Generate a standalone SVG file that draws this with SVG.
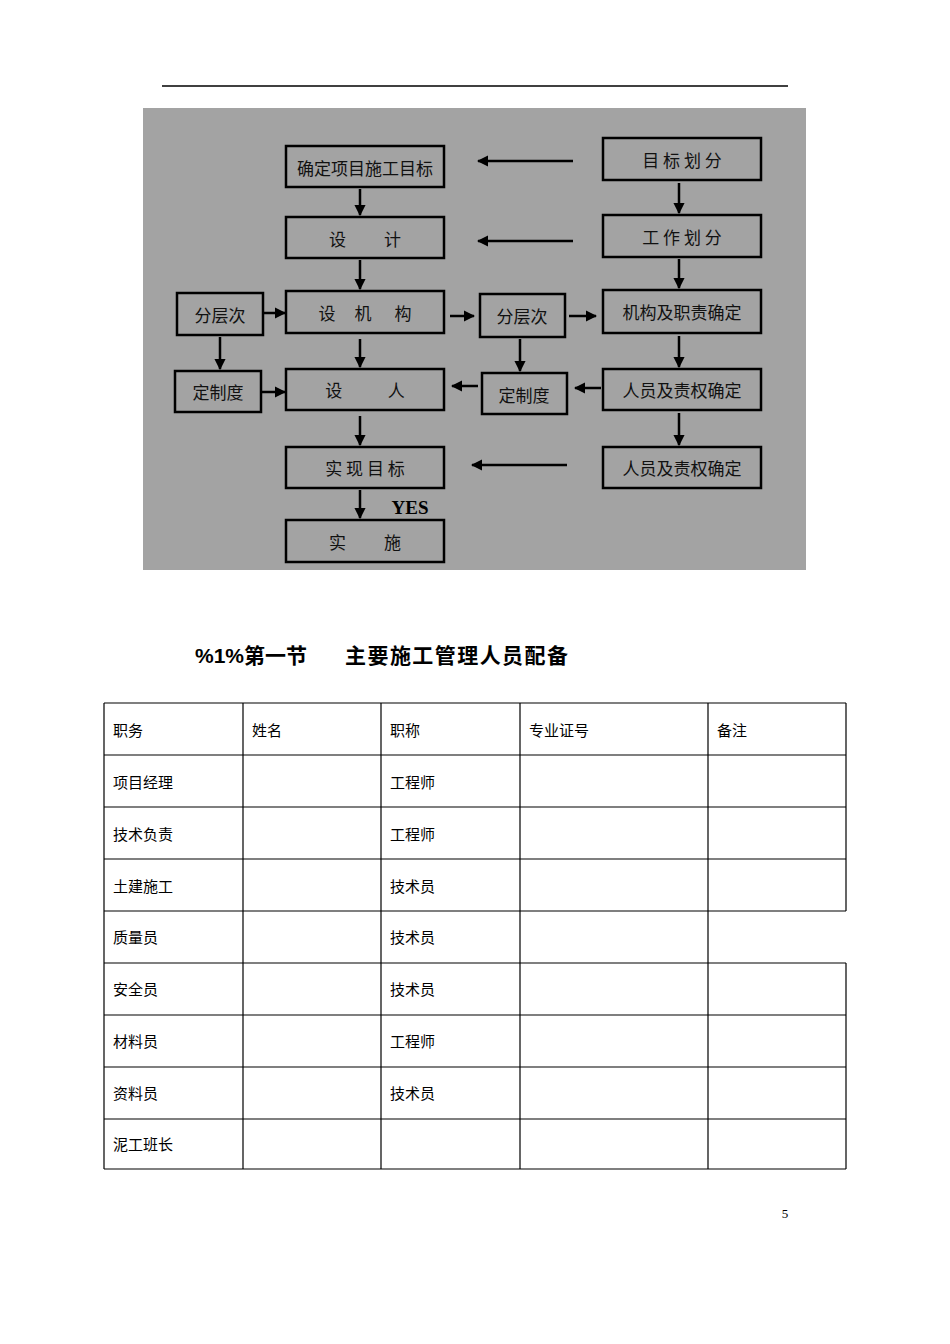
<svg xmlns="http://www.w3.org/2000/svg" width="950" height="1344" viewBox="0 0 950 1344">
<style>
.b{fill:none;stroke:#000;stroke-width:2.5}
.t{font-family:"Noto Sans CJK SC",sans-serif;font-size:17px;fill:#111;text-anchor:middle;dominant-baseline:central}
.c{stroke:#000;stroke-width:2.5;fill:none}
.g{stroke:#000;stroke-width:1.2;fill:none}
.tt{font-family:"Liberation Serif","Noto Sans CJK SC",serif;font-size:15px;fill:#000}
.h{font-family:"Liberation Sans","Noto Sans CJK SC",sans-serif;font-size:21px;font-weight:bold}
</style>
<defs><marker id="a" viewBox="0 0 10 10" refX="9" refY="5" markerWidth="4.5" markerHeight="4.5" orient="auto"><path d="M0,0L10,5L0,10z" fill="#000"/></marker></defs>
<rect width="950" height="1344" fill="#fff"/>
<line x1="162" y1="86" x2="788" y2="86" stroke="#000" stroke-width="1.5"/>
<rect x="143" y="108" width="663" height="462" fill="#a3a3a3"/>
<g id="n1"><rect class="b" x="286" y="146" width="158" height="41"/><text class="t" x="365" y="167">确定项目施工目标</text></g>
<g id="n2"><rect class="b" x="603" y="138" width="158" height="42"/><text class="t" x="682" y="159">目 标 划 分</text></g>
<g id="n3"><rect class="b" x="286" y="217" width="158" height="41"/><text class="t" x="365" y="238" xml:space="preserve">设          计</text></g>
<g id="n4"><rect class="b" x="603" y="215" width="158" height="42"/><text class="t" x="682" y="236">工  作  划  分</text></g>
<g id="n5"><rect class="b" x="177" y="293" width="86" height="42"/><text class="t" x="220" y="314">分层次</text></g>
<g id="n6"><rect class="b" x="286" y="291" width="158" height="42"/><text class="t" x="365" y="312" xml:space="preserve">设     机      构</text></g>
<g id="n7"><rect class="b" x="480" y="294" width="85" height="43"/><text class="t" x="522" y="315">分层次</text></g>
<g id="n8"><rect class="b" x="603" y="290" width="158" height="43"/><text class="t" x="682" y="311">机构及职责确定</text></g>
<g id="n9"><rect class="b" x="175" y="371" width="86" height="41"/><text class="t" x="218" y="391">定制度</text></g>
<g id="n10"><rect class="b" x="286" y="369" width="158" height="41"/><text class="t" x="365" y="389" xml:space="preserve">设            人</text></g>
<g id="n11"><rect class="b" x="482" y="373" width="85" height="41"/><text class="t" x="524" y="394">定制度</text></g>
<g id="n12"><rect class="b" x="603" y="369" width="158" height="41"/><text class="t" x="682" y="389">人员及责权确定</text></g>
<g id="n13"><rect class="b" x="286" y="447" width="158" height="41"/><text class="t" x="365" y="467">实  现  目  标</text></g>
<g id="n14"><rect class="b" x="603" y="447" width="158" height="41"/><text class="t" x="682" y="467">人员及责权确定</text></g>
<g id="n15"><rect class="b" x="286" y="520" width="158" height="42"/><text class="t" x="365" y="541" xml:space="preserve">实          施</text></g>
<text x="410" y="514" font-family="Liberation Serif,serif" font-size="19" font-weight="bold" text-anchor="middle">YES</text>
<g id="connectors">
<line class="c" x1="573" y1="161" x2="478" y2="161" marker-end="url(#a)"/>
<line class="c" x1="573" y1="241" x2="478" y2="241" marker-end="url(#a)"/>
<line class="c" x1="567" y1="465" x2="472" y2="465" marker-end="url(#a)"/>
<line class="c" x1="360" y1="189" x2="360" y2="215" marker-end="url(#a)"/>
<line class="c" x1="360" y1="260" x2="360" y2="289" marker-end="url(#a)"/>
<line class="c" x1="360" y1="339" x2="360" y2="367" marker-end="url(#a)"/>
<line class="c" x1="360" y1="416" x2="360" y2="445" marker-end="url(#a)"/>
<line class="c" x1="360" y1="490" x2="360" y2="518" marker-end="url(#a)"/>
<line class="c" x1="679" y1="183" x2="679" y2="213" marker-end="url(#a)"/>
<line class="c" x1="679" y1="259" x2="679" y2="288" marker-end="url(#a)"/>
<line class="c" x1="679" y1="336" x2="679" y2="367" marker-end="url(#a)"/>
<line class="c" x1="679" y1="413" x2="679" y2="445" marker-end="url(#a)"/>
<line class="c" x1="220" y1="337" x2="220" y2="369" marker-end="url(#a)"/>
<line class="c" x1="520" y1="339" x2="520" y2="371" marker-end="url(#a)"/>
<line class="c" x1="263" y1="313" x2="285" y2="313" marker-end="url(#a)"/>
<line class="c" x1="450" y1="316" x2="474" y2="316" marker-end="url(#a)"/>
<line class="c" x1="569" y1="316" x2="596" y2="316" marker-end="url(#a)"/>
<line class="c" x1="261" y1="392" x2="285" y2="392" marker-end="url(#a)"/>
<line class="c" x1="478" y1="386" x2="452" y2="386" marker-end="url(#a)"/>
<line class="c" x1="601" y1="388" x2="575" y2="388" marker-end="url(#a)"/>
</g>
<text class="h" x="195" y="663">%1%第一节</text>
<text class="h" x="345" y="663" textLength="223">主要施工管理人员配备</text>
<g id="table">
<path class="g" d="M104,703H846M104,755H846M104,807H846M104,859H846M104,911H846M104,963H846M104,1015H846M104,1067H846M104,1119H846M104,1169H846M104,703V1169M243,703V1169M381,703V1169M520,703V1169M708,703V1169M846,703V911M846,963V1169"/>
<g class="tt">
<text x="113" y="736">职务</text><text x="252" y="736">姓名</text><text x="390" y="736">职称</text><text x="529" y="736">专业证号</text><text x="717" y="736">备注</text>
<text x="113" y="788">项目经理</text><text x="390" y="788">工程师</text>
<text x="113" y="840">技术负责</text><text x="390" y="840">工程师</text>
<text x="113" y="892">土建施工</text><text x="390" y="892">技术员</text>
<text x="113" y="943">质量员</text><text x="390" y="943">技术员</text>
<text x="113" y="995">安全员</text><text x="390" y="995">技术员</text>
<text x="113" y="1047">材料员</text><text x="390" y="1047">工程师</text>
<text x="113" y="1099">资料员</text><text x="390" y="1099">技术员</text>
<text x="113" y="1150">泥工班长</text>
</g>
</g>
<text x="785" y="1218" font-family="Liberation Serif,serif" font-size="13" text-anchor="middle">5</text>
</svg>
